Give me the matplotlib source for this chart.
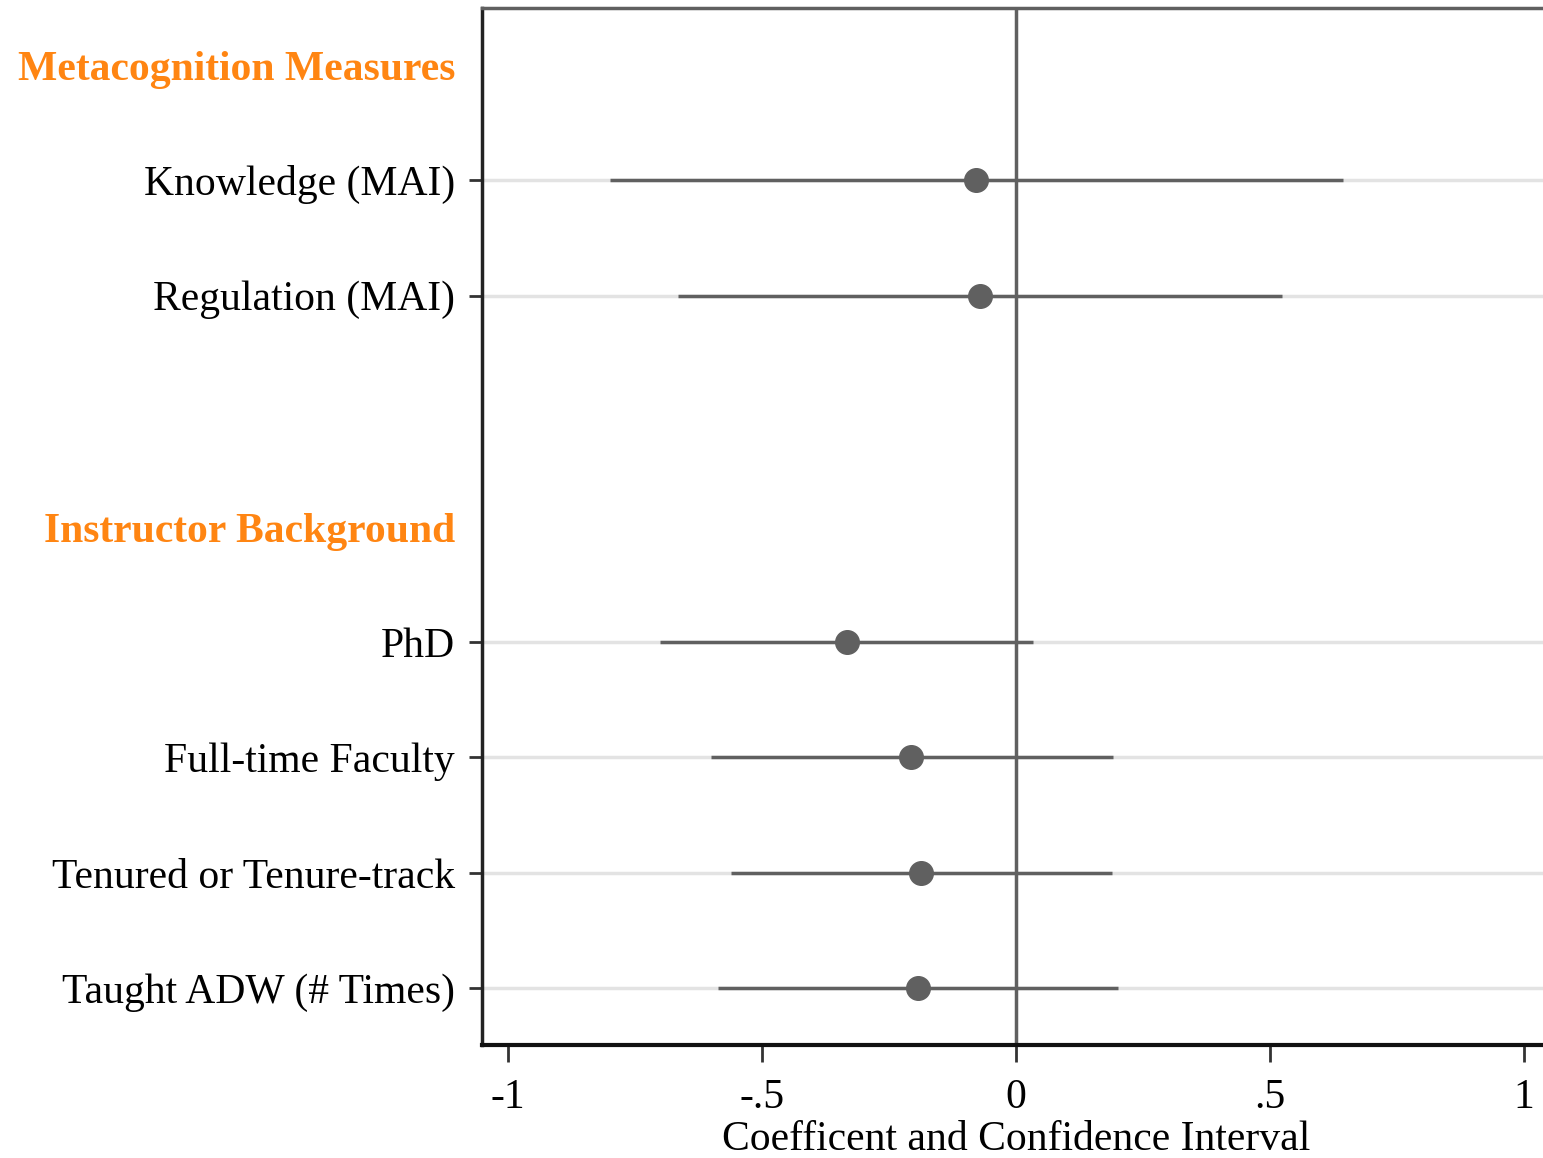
import matplotlib.pyplot as plt
from matplotlib.transforms import blended_transform_factory

plt.rcParams['font.family'] = ['Liberation Serif', 'DejaVu Serif']

# rows (top to bottom), headers take their own row
headers = ["Metacognition Measures", "Instructor Background"]
header_pos = [0, 4]
labels = ["Knowledge (MAI)", "Regulation (MAI)", "PhD", "Full-time Faculty",
          "Tenured or Tenure-track", "Taught ADW (# Times)"]
label_pos = [1, 2, 5, 6, 7, 8]
coef = [-0.079, -0.071, -0.333, -0.207, -0.187, -0.193]
ci_low = [-0.799, -0.665, -0.701, -0.600, -0.561, -0.587]
ci_high = [0.644, 0.524, 0.033, 0.191, 0.189, 0.201]
xticks = [-1, -0.5, 0, 0.5, 1]
xticklabels = ["-1", "-.5", "0", ".5", "1"]

fig = plt.figure(figsize=(15.43, 11.58), dpi=100)
ax = fig.add_axes([482/1543, 1-1045/1158, (1550-482)/1543, (1045-8)/1158])

gray = "#606060"
for p in label_pos:
    ax.axhline(p, color="#e3e3e3", lw=2.5, zorder=0)
ax.axvline(0, color=gray, lw=2.5, zorder=1)
ax.hlines(label_pos, ci_low, ci_high, color=gray, lw=2.5, zorder=2)
ax.plot(coef, label_pos, "o", color=gray, ms=17, zorder=3)

ax.set_xlim(-1.051, 1.051)
ax.set_ylim(8.49, -0.49)
ax.set_xticks(xticks)
ax.set_xticklabels(xticklabels, fontsize=30)
ax.set_yticks(label_pos)
ax.set_yticklabels(labels, fontsize=30)
ax.tick_params(axis="x", length=12, width=2, color="#333333", pad=12)
ax.tick_params(axis="y", length=9.5, width=2, color="#333333", pad=10)
ax.set_xlabel("Coefficent and Confidence Interval", fontsize=30, labelpad=3)

trans = blended_transform_factory(ax.transAxes, ax.transData)
for h, p in zip(headers, header_pos):
    ax.text(-0.025, p + 0.05, h, transform=trans, ha="right", va="center",
            fontsize=30, fontweight="bold", color="#ff8512")

ax.spines["left"].set_color("#222222")
ax.spines["left"].set_linewidth(2.5)
ax.spines["bottom"].set_color("#111111")
ax.spines["bottom"].set_linewidth(3)
ax.spines["top"].set_color("#606060")
ax.spines["top"].set_linewidth(2.5)
ax.spines["right"].set_visible(False)

fig.savefig("out.png", dpi=100)
